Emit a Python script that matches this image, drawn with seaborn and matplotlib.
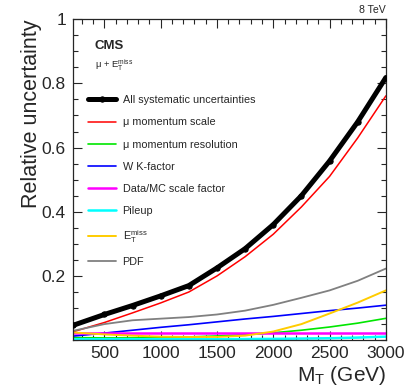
import numpy as np
import pandas as pd
import seaborn as sns
import matplotlib.pyplot as plt
from matplotlib.ticker import MultipleLocator

# transverse mass grid (GeV) and relative uncertainties
mt = [220, 500, 750, 1000, 1250, 1500, 1750, 2000, 2250, 2500, 2750, 3000]

total = [0.046, 0.080, 0.108, 0.138, 0.170, 0.225, 0.285, 0.360, 0.450, 0.558, 0.680, 0.818]
mu_scale = [0.026, 0.055, 0.085, 0.116, 0.150, 0.200, 0.260, 0.330, 0.415, 0.510, 0.630, 0.761]
mu_res = [0.008, 0.007, 0.007, 0.008, 0.010, 0.013, 0.017, 0.023, 0.031, 0.041, 0.053, 0.068]
w_kfactor = [0.0125, 0.022, 0.031, 0.040, 0.048, 0.057, 0.066, 0.074, 0.083, 0.092, 0.100, 0.109]
data_mc_sf = [0.021] * 12
pileup = [0.003, 0.003, 0.003, 0.003, 0.003, 0.003, 0.0035, 0.004, 0.005, 0.006, 0.008, 0.011]
met = [0.024, 0.018, 0.014, 0.011, 0.010, 0.010, 0.014, 0.027, 0.050, 0.083, 0.117, 0.155]
pdf = [0.029, 0.050, 0.062, 0.067, 0.072, 0.080, 0.092, 0.110, 0.132, 0.155, 0.185, 0.223]

labels = ["μ momentum scale", "μ momentum resolution", "W K-factor",
          "Data/MC scale factor", "Pileup", r"$E_T^{miss}$", "PDF"]
colors = ["#ff0000", "#00e600", "#0000ff", "#ff00ff", "#00ffff", "#ffcc00", "#808080"]
widths = [1.1, 1.2, 1.2, 1.8, 1.8, 1.4, 1.3]

sns.set_style("ticks")
plt.rcParams["font.family"] = ["Liberation Sans", "DejaVu Sans"]
plt.rcParams["mathtext.default"] = "regular"

fig = plt.figure(figsize=(4.07, 3.91), dpi=100)
ax = fig.add_axes([0.179, 0.130, 0.769, 0.821])

sns.lineplot(x=mt, y=total, ax=ax, color="black", lw=3.6, marker="o", ms=3.8,
             mec="black", label="All systematic uncertainties", zorder=5)

long = pd.DataFrame({
    "mt": mt * 7,
    "unc": mu_scale + mu_res + w_kfactor + data_mc_sf + pileup + met + pdf,
    "source": np.repeat(labels, len(mt)),
})
sns.lineplot(data=long, x="mt", y="unc", hue="source", hue_order=labels,
             palette=dict(zip(labels, colors)), size="source", size_order=labels,
             sizes=dict(zip(labels, widths)), estimator=None, sort=False, ax=ax)

ax.set_xlim(220, 3000)
ax.set_ylim(0, 1)
ax.xaxis.set_major_locator(MultipleLocator(500))
ax.xaxis.set_minor_locator(MultipleLocator(100))
ax.yaxis.set_major_locator(MultipleLocator(0.2))
ax.yaxis.set_minor_locator(MultipleLocator(0.05))
ax.set_yticks([0.2, 0.4, 0.6, 0.8, 1.0])
ax.set_yticklabels(["0.2", "0.4", "0.6", "0.8", "1"])
ax.tick_params(which="both", direction="in", top=True, right=True, width=0.8)
ax.tick_params(which="major", length=6.5, labelsize=12.5)
ax.tick_params(axis="y", which="major", pad=5)
ax.tick_params(axis="x", which="major", pad=4)
ax.tick_params(which="minor", length=3.3)
for s in ax.spines.values():
    s.set_linewidth(0.9)

ax.set_xlabel(r"M$_T$ (GeV)", fontsize=15, loc="right", labelpad=2)
ax.set_ylabel("Relative uncertainty", fontsize=15.5, loc="top")
ax.yaxis.set_label_coords(-0.1, 1.0)

handles, names = ax.get_legend_handles_labels()
ax.legend(handles[:8], names[:8], loc="upper left", bbox_to_anchor=(0.048, 0.763),
          frameon=False, fontsize=7.8, handlelength=2.6, handletextpad=0.6,
          labelspacing=1.12, borderpad=0, borderaxespad=0)

ax.text(0.07, 0.915, "CMS", transform=ax.transAxes, fontsize=9.5,
        fontweight="bold", va="center")
ax.text(0.07, 0.855, r"μ + $E_T^{miss}$", transform=ax.transAxes, fontsize=6.8,
        va="center")
ax.text(1.0, 1.012, "8 TeV", transform=ax.transAxes, fontsize=7.6,
        ha="right", va="bottom")

fig.savefig("out.png", dpi=100)
